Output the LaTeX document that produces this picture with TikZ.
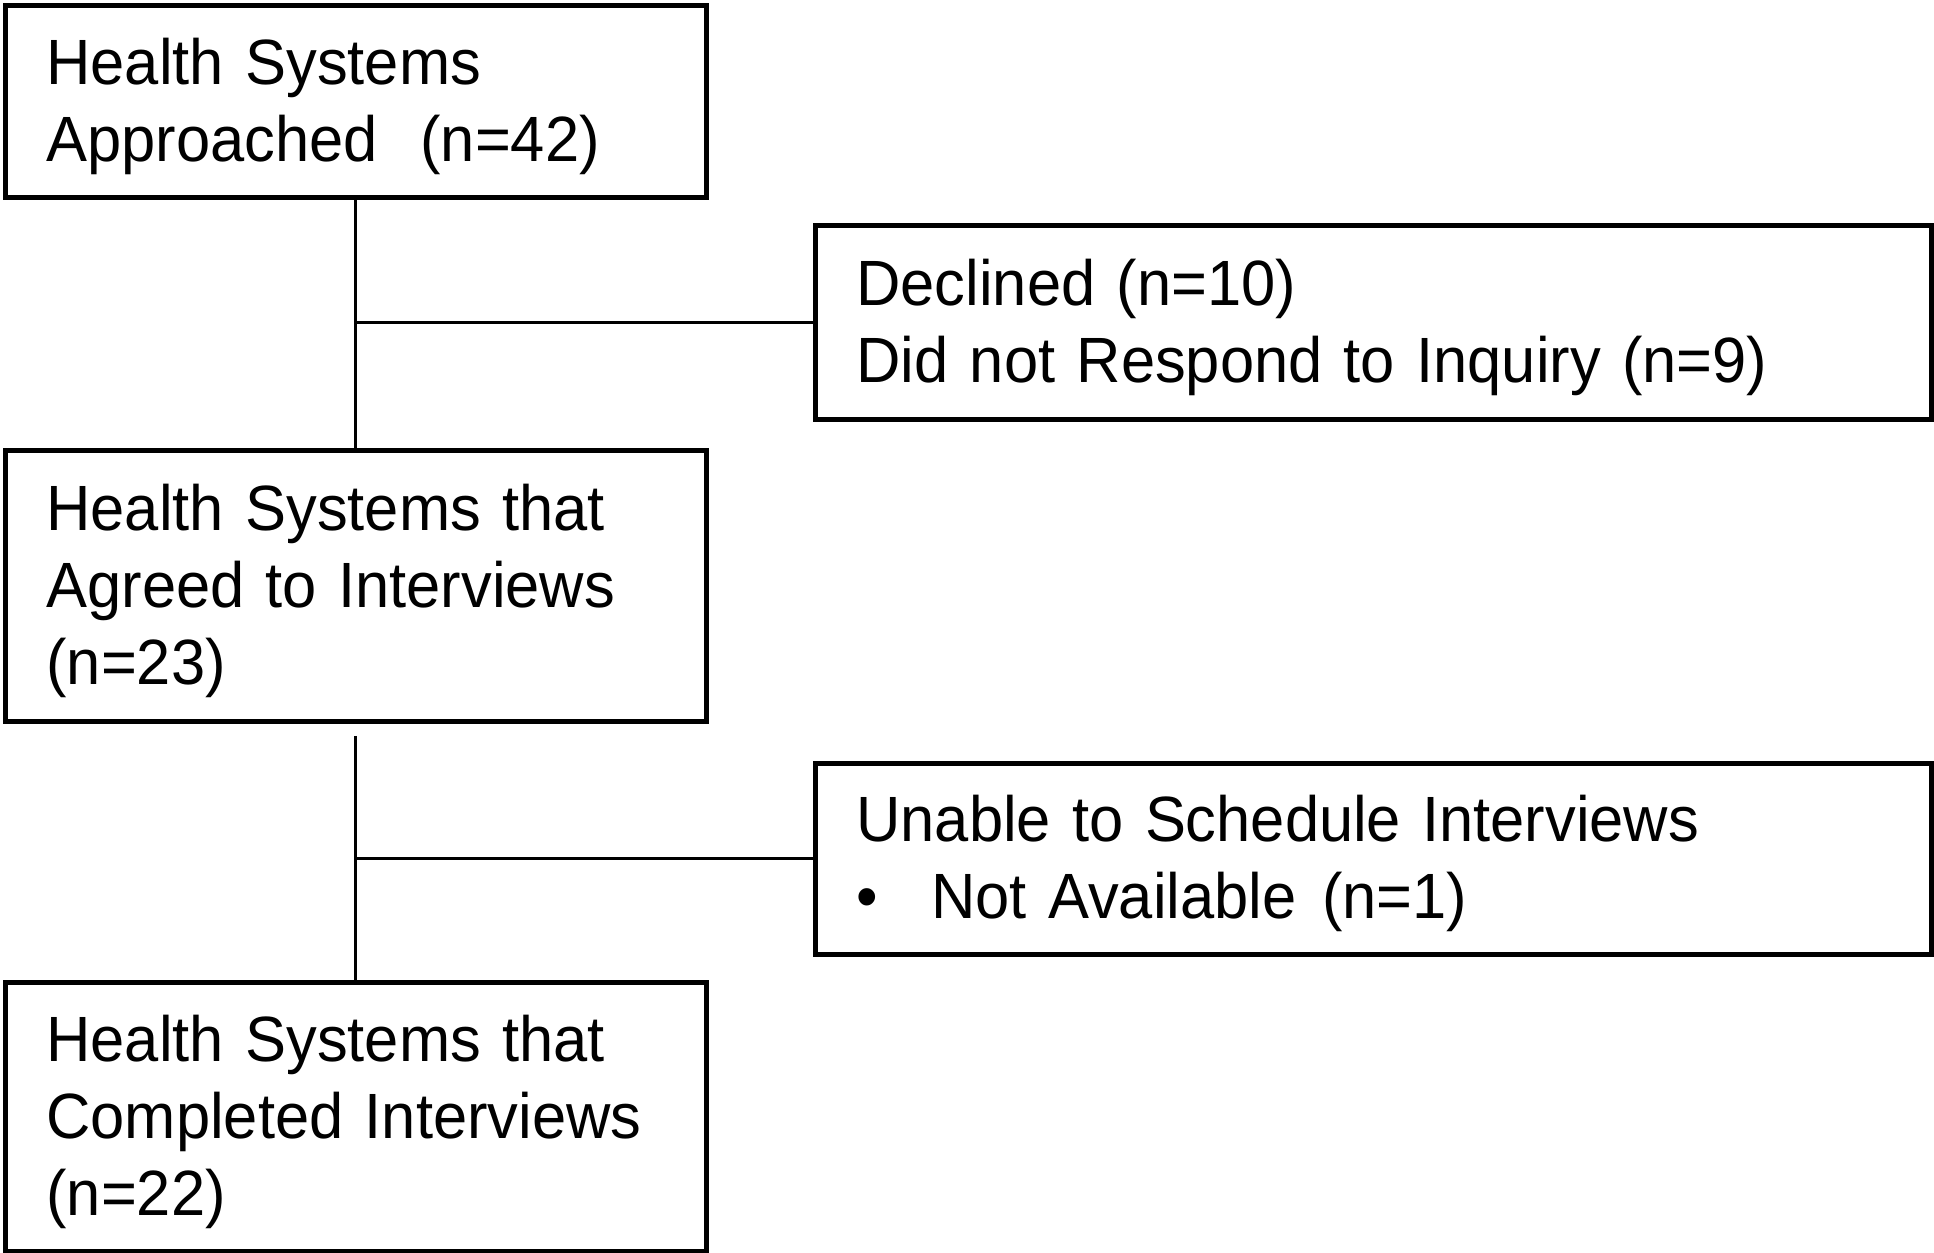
\documentclass[tikz,border=0pt]{standalone}
\usepackage{fontspec}
\setmainfont{Liberation Sans}[FakeStretch=0.96]
\usetikzlibrary{positioning}

\newcommand{\boxstrut}{\rule[-6.4pt]{0pt}{28.9pt}}

\tikzset{
  box/.style={draw, line width=1.8pt, anchor=north west, align=left,
    inner xsep=15.4pt, inner ysep=0pt, font=\fontsize{24}{28.9}\selectfont},
  narrowbox/.style={box, minimum width=262.9pt, text width=232.1pt},
  widebox/.style={box, minimum width=418.5pt, text width=387.7pt},
  link/.style={line width=1.1pt}
}

\begin{document}
\begin{tikzpicture}[x=0.375pt,y=-0.375pt]
\def\gap{12}

\useasboundingbox (0,0) rectangle (1934,1252);

% left column
\node[narrowbox, minimum height=72pt] (approached) at (3,3)
  {\boxstrut Health Systems\\Approached\ \ (n=42)\boxstrut};
\node[narrowbox, minimum height=101.6pt] (agreed) at (3,448)
  {\boxstrut Health Systems that\\Agreed to Interviews\\(n=23)\boxstrut};
\node[narrowbox, minimum height=100.9pt] (completed) at (3,980)
  {\boxstrut Health Systems that\\Completed Interviews\\(n=22)\boxstrut};

% right column
\node[widebox, minimum height=72.8pt] (declined) at (813,223)
  {\boxstrut Declined (n=10)\\Did not Respond to Inquiry (n=9)\boxstrut};
\node[widebox, minimum height=71.6pt] (unable) at (813,761)
  {\boxstrut Unable to Schedule Interviews\\%
   \makebox[28.1pt][l]{\textbullet}Not Available\hspace{0.4em}(n=1)\boxstrut};

% connectors
\draw[link] (approached.south) -- (agreed.north);
\draw[link] (declined.west) -- (declined.west -| approached.south);
\draw[link] ([yshift=-\gap*0.375pt]agreed.south) -- (completed.north);
\draw[link] (unable.west) -- (unable.west -| agreed.south);

\end{tikzpicture}
\end{document}
